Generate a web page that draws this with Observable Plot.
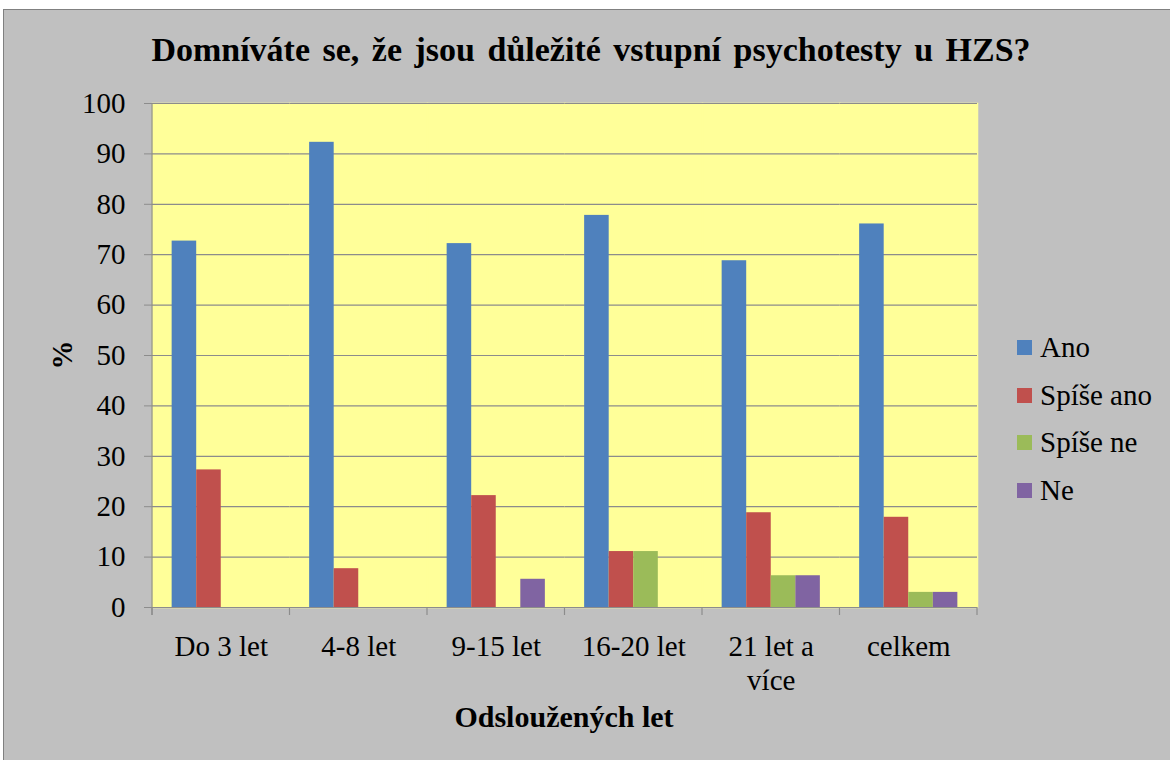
<!DOCTYPE html>
<html>
<head>
<meta charset="utf-8">
<script src="https://cdn.jsdelivr.net/npm/d3@7"></script>
<script src="https://cdn.jsdelivr.net/npm/@observablehq/plot@0.6"></script>
<style>
  html, body { margin: 0; padding: 0; background: #ffffff; }
  #wrap { position: relative; width: 1170px; height: 760px; overflow: hidden; font-family: "Liberation Serif", "Times New Roman", serif; color: #000; }
  #frame { position: absolute; left: 3px; top: 9px; right: 0; bottom: 0; background: #c0c0c0; border-left: 1px solid #808080; border-top: 1px solid #808080; }
  #chart { position: absolute; left: 0; top: 0; }
  #title { position: absolute; left: 0; top: 30px; width: 1182px; text-align: center; font-weight: bold; font-size: 34px; line-height: 40px; word-spacing: 4px; white-space: nowrap; }
  #ylabel { position: absolute; left: 62px; top: 355px; transform: translate(-50%, -50%) rotate(-90deg); font-weight: bold; font-size: 29px; }
  #xlabel { position: absolute; left: 564px; top: 717px; transform: translate(-50%, -50%); font-weight: bold; font-size: 30px; white-space: nowrap; }
  #legend { position: absolute; left: 1017px; top: 324px; }
  .item { display: flex; align-items: center; height: 47.5px; font-size: 29px; white-space: nowrap; }
  .sw { width: 15px; height: 15px; margin-right: 8px; flex: none; }
</style>
</head>
<body>
<div id="wrap">
  <div id="frame"></div>
  <div id="chart"></div>
  <div id="title"></div>
  <div id="ylabel"></div>
  <div id="xlabel"></div>
  <div id="legend"></div>
</div>
<script>
const titleText = "Domníváte se, že jsou důležité vstupní psychotesty u HZS?";
const yLabel = "%";
const xLabel = "Odsloužených let";
const categories = ["Do 3 let", "4-8 let", "9-15 let", "16-20 let", "21 let a více", "celkem"];
const categoryLabels = ["Do 3 let", "4-8 let", "9-15 let", "16-20 let", "21 let a\nvíce", "celkem"];
const series = ["Ano", "Spíše ano", "Spíše ne", "Ne"];
const ano      = [72.7, 92.3, 72.2, 77.8, 68.8, 76.1];
const spiseAno = [27.3,  7.7, 22.2, 11.1, 18.8, 17.9];
const spiseNe  = [ 0.0,  0.0,  0.0, 11.1,  6.3,  3.0];
const ne       = [ 0.0,  0.0,  5.6,  0.0,  6.3,  3.0];
const colors = ["#4f81bd", "#c0504d", "#9bbb59", "#8064a2"];
const yTicks = [0, 10, 20, 30, 40, 50, 60, 70, 80, 90, 100];

const seriesValues = [ano, spiseAno, spiseNe, ne];
const data = categories.flatMap((c, i) =>
  series.map((s, j) => ({category: c, series: s, value: seriesValues[j][i]}))
).filter(d => d.value > 0);
const labelOf = new Map(categories.map((c, i) => [c, categoryLabels[i]]));

const gridColor = "#8c8c8c";
const plotBg = "#ffff99";

const plot = Plot.plot({
  width: 1170,
  height: 760,
  marginLeft: 152,
  marginRight: 193,
  marginTop: 103,
  marginBottom: 153,
  style: {background: "transparent", fontFamily: "'Liberation Serif', 'Times New Roman', serif", fontSize: "29px", color: "#000"},
  fx: {domain: categories, padding: 0, round: false, label: null},
  x: {domain: series, paddingInner: 0, paddingOuter: 0.8, round: false, axis: null},
  y: {domain: [0, 100], label: null},
  color: {domain: series, range: colors},
  marks: [
    Plot.frame({fill: plotBg, stroke: plotBg, strokeWidth: 1.5}),
    Plot.gridY(yTicks, {stroke: gridColor, strokeOpacity: 1, strokeWidth: 1.2}),
    Plot.barY(data, {fx: "category", x: "series", y: "value", fill: "series"}),
    Plot.ruleY([0], {stroke: gridColor, strokeWidth: 1.2}),
    Plot.axisY(yTicks, {tickSize: 8, tickPadding: 19, stroke: gridColor, label: null, fontSize: 29}),
    Plot.axisFx({anchor: "bottom", tickSize: 0, tickPadding: 24, label: null, fontSize: 29, lineHeight: 1.17, tickFormat: d => labelOf.get(d)})
  ]
});

// category boundary ticks and the vertical axis line, positioned with Plot's own scales
const fx = plot.scale("fx");
const y = plot.scale("y");
const svg = d3.select(plot);
const bounds = categories.map(c => fx.apply(c)).concat([fx.apply(categories[categories.length - 1]) + fx.bandwidth]);
svg.append("g")
  .attr("stroke", gridColor)
  .attr("stroke-width", 1.2)
  .selectAll("line")
  .data(bounds)
  .join("line")
  .attr("x1", d => d).attr("x2", d => d)
  .attr("y1", y.apply(0)).attr("y2", y.apply(0) + 8);
svg.append("line")
  .attr("stroke", gridColor)
  .attr("stroke-width", 1.2)
  .attr("x1", bounds[0]).attr("x2", bounds[0])
  .attr("y1", y.apply(100)).attr("y2", y.apply(0) + 8);

document.getElementById("chart").appendChild(plot);
document.getElementById("title").textContent = titleText;
document.getElementById("ylabel").textContent = yLabel;
document.getElementById("xlabel").textContent = xLabel;
const legend = document.getElementById("legend");
series.forEach((s, i) => {
  const item = document.createElement("div");
  item.className = "item";
  const sw = document.createElement("span");
  sw.className = "sw";
  sw.style.background = colors[i];
  const t = document.createElement("span");
  t.textContent = s;
  item.appendChild(sw);
  item.appendChild(t);
  legend.appendChild(item);
});
</script>
</body>
</html>
